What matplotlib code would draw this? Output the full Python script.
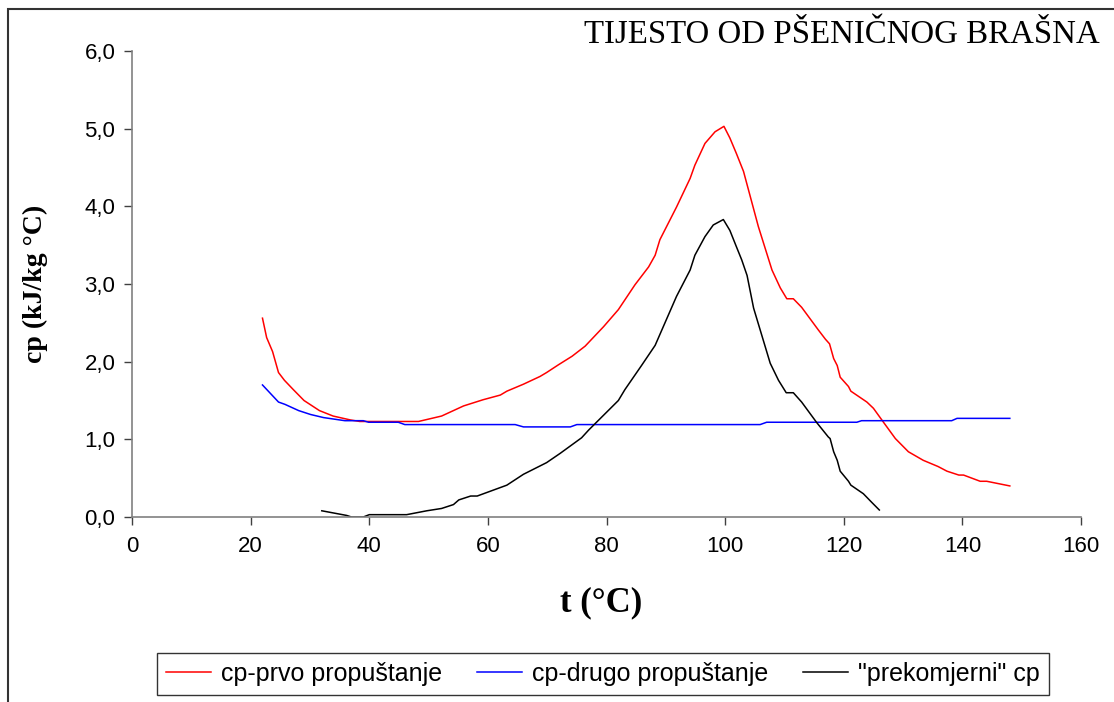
import numpy as np
import matplotlib.pyplot as plt
from matplotlib.patches import Rectangle
from matplotlib.ticker import FuncFormatter, MultipleLocator

# cp - prvo propustanje
t1 = [22.0, 22.7, 23.7, 24.7, 25.7, 27.2, 29.0, 31.6, 33.9, 36.8, 38.4, 48.3,
      52.2, 55.9, 59.2, 62.1, 63.2, 66.0, 68.8, 69.9, 71.9, 74.2, 76.4, 79.5,
      82.0, 84.8, 87.1, 88.2, 89.0, 91.8, 94.1, 94.9, 96.6, 98.3, 99.8, 100.8,
      101.9, 103.1, 105.6, 107.9, 109.3, 110.4, 111.5, 112.9, 115.7, 116.9,
      117.6, 118.3, 118.9, 119.4, 120.8, 121.2, 123.9, 125.0, 126.7, 128.7,
      130.9, 133.4, 135.9, 137.4, 139.4, 140.2, 143.0, 144.1, 148.0]
cp1 = [2.56, 2.31, 2.13, 1.86, 1.76, 1.64, 1.50, 1.37, 1.30, 1.25, 1.23, 1.23,
       1.30, 1.43, 1.51, 1.57, 1.62, 1.71, 1.81, 1.86, 1.96, 2.07, 2.20, 2.45,
       2.67, 2.99, 3.22, 3.37, 3.57, 3.99, 4.36, 4.53, 4.81, 4.96, 5.03, 4.88,
       4.68, 4.45, 3.74, 3.18, 2.95, 2.81, 2.81, 2.70, 2.41, 2.29,
       2.23, 2.04, 1.95, 1.80, 1.68, 1.62, 1.48, 1.40, 1.22, 1.01,
       0.84, 0.73, 0.65, 0.59, 0.54, 0.54, 0.46, 0.46, 0.40]

# cp - drugo propustanje
t2 = [22.0, 24.7, 25.8, 28.1, 30.1, 32.3, 35.9, 39.0, 39.9, 44.9, 46.0, 64.6,
      66.0, 73.9, 75.0, 105.9, 107.0, 122.2, 123.0, 138.2, 139.1, 148.0]
cp2 = [1.70, 1.48, 1.45, 1.37, 1.32, 1.28, 1.24, 1.24, 1.22, 1.22, 1.19, 1.19,
       1.16, 1.16, 1.19, 1.19, 1.22, 1.22, 1.24, 1.24, 1.27, 1.27]

# "prekomjerni" cp
t3 = [32.0, 36.2, 37.0, 39.0, 40.0, 46.3, 49.7, 52.2, 54.2, 55.1, 57.1, 58.2,
      63.2, 66.0, 69.9, 72.2, 75.8, 77.0, 82.0, 83.1, 85.9, 88.2, 91.8, 94.1,
      94.9, 96.6, 98.0, 99.7, 100.8, 101.9, 102.8, 103.7, 104.8, 107.6, 109.0,
      110.3, 111.5, 112.9, 115.4, 117.4, 117.7, 118.3, 118.9, 119.4, 120.8,
      121.2, 123.3, 124.7, 126.0]
cp3 = [0.08, 0.02, 0.0, 0.0, 0.03, 0.03, 0.08, 0.11, 0.16, 0.22, 0.27, 0.27,
       0.41, 0.55, 0.70, 0.82, 1.02, 1.12, 1.50, 1.64, 1.95, 2.21, 2.84, 3.18,
       3.37, 3.61, 3.76, 3.83, 3.69, 3.48, 3.31, 3.11, 2.69, 1.98, 1.76,
       1.60, 1.60, 1.48, 1.22, 1.03, 1.01, 0.84, 0.73, 0.59, 0.46,
       0.41, 0.30, 0.19, 0.09]

labels = ['cp-prvo propuštanje', 'cp-drugo propuštanje', '"prekomjerni" cp']
colors = ['#ff0000', '#0000ff', '#000000']

plt.rcParams['font.family'] = ['Liberation Sans', 'DejaVu Sans']

fig = plt.figure(figsize=(11.14, 7.02), dpi=100)
ax = fig.add_axes([132 / 1114, 1 - 517 / 702, (1081 - 132) / 1114, (517 - 51) / 702])

for t, cp, lab, c in zip([t1, t2, t3], [cp1, cp2, cp3], labels, colors):
    ax.plot(t, cp, color=c, lw=1.1, label=lab)

ax.set_xlim(0, 160)
ax.set_ylim(0, 6)
ax.xaxis.set_major_locator(MultipleLocator(20))
ax.yaxis.set_major_locator(MultipleLocator(1))
ax.yaxis.set_major_formatter(FuncFormatter(lambda v, p: f'{v:.1f}'.replace('.', ',')))
for s in ['top', 'right']:
    ax.spines[s].set_visible(False)
for s in ['left', 'bottom']:
    ax.spines[s].set_color('#808080')
    ax.spines[s].set_linewidth(1.2)
ax.tick_params(direction='out', length=6, width=1.0, color='#404040',
               labelsize=16, pad=6)
ax.tick_params(axis='x', pad=8)

ax.set_xlabel('t (°C)', family='Liberation Serif', fontweight='bold',
              fontsize=25, va='center')
ax.xaxis.set_label_coords(0.494, -0.185)
ax.set_ylabel('cp (kJ/kg °C)', family='Liberation Serif', fontweight='bold',
              fontsize=20, va='center')
ax.yaxis.set_label_coords(-0.102, 0.5)

fig.text(1100 / 1114, 1 - 35 / 702, 'TIJESTO OD PŠENIČNOG BRAŠNA',
         family='Liberation Serif', fontsize=23.7, ha='right', va='center')

leg = ax.legend(loc='center', ncol=3, bbox_to_anchor=(603 / 1114, 1 - 674 / 702),
                bbox_transform=fig.transFigure, fontsize=18, frameon=True,
                fancybox=False, handlelength=1.8, columnspacing=1.4,
                handletextpad=0.4, borderpad=0.35, borderaxespad=0)
leg.get_frame().set_edgecolor('black')
leg.get_frame().set_linewidth(1.0)

# chart border
fig.add_artist(Rectangle((8 / 1114, -0.2), 1.2, 1.2 - 9 / 702,
                         transform=fig.transFigure, fill=False,
                         edgecolor='#333333', lw=1.5))

fig.savefig('out.png', dpi=100)
